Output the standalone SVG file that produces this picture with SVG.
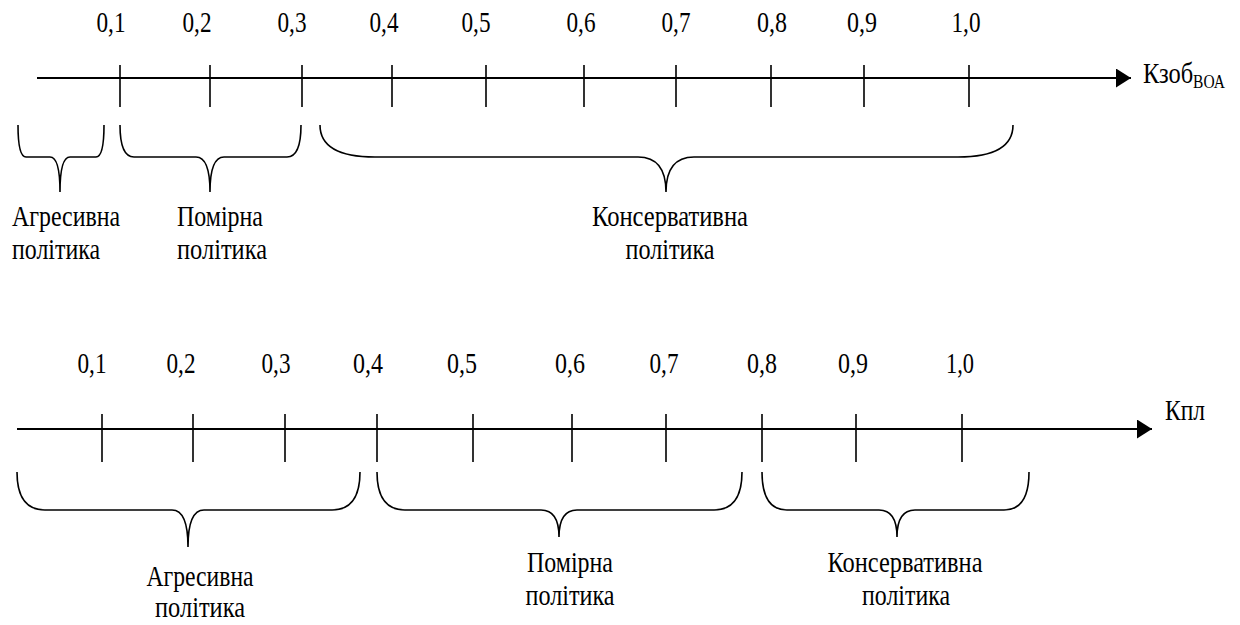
<svg xmlns="http://www.w3.org/2000/svg" width="1240" height="625" viewBox="0 0 1240 625">
<style>
.axis{stroke:#000;stroke-width:2.2;fill:none}
.tick{stroke:#000;stroke-width:1.6}
.brace{stroke:#000;stroke-width:1.6;fill:none}
text{font-family:"Liberation Serif","Times New Roman",serif;fill:#000;text-anchor:middle}
.num{font-size:30px}
.lbl{font-size:30px}
</style>
<defs>
<marker id="arr" markerUnits="userSpaceOnUse" markerWidth="16" markerHeight="20" refX="15" refY="9.5" orient="auto">
<path d="M0,0 L15,9.5 L0,19 Z" fill="#000"/>
</marker>
</defs>
<rect width="1240" height="625" fill="#fff"/>
<g id="connectors">
<line class="axis" x1="37" y1="78" x2="1131" y2="78" marker-end="url(#arr)"/>
<line class="axis" x1="17" y1="429" x2="1152" y2="429" marker-end="url(#arr)"/>
</g>
<g id="ticks-top">
<path class="tick" d="M120,65V107M210,65V107M302,65V107M392,65V107M486,65V107M584,65V107M676,65V107M771,65V107M864,65V107M969,65V107"/>
</g>
<g id="labels-top" class="num">
<text x="111" y="32" textLength="29" lengthAdjust="spacingAndGlyphs">0,1</text>
<text x="197" y="32" textLength="29" lengthAdjust="spacingAndGlyphs">0,2</text>
<text x="292" y="32" textLength="29" lengthAdjust="spacingAndGlyphs">0,3</text>
<text x="384" y="32" textLength="29" lengthAdjust="spacingAndGlyphs">0,4</text>
<text x="476" y="32" textLength="29" lengthAdjust="spacingAndGlyphs">0,5</text>
<text x="581" y="32" textLength="29" lengthAdjust="spacingAndGlyphs">0,6</text>
<text x="676" y="32" textLength="29" lengthAdjust="spacingAndGlyphs">0,7</text>
<text x="772" y="32" textLength="30" lengthAdjust="spacingAndGlyphs">0,8</text>
<text x="862" y="32" textLength="30" lengthAdjust="spacingAndGlyphs">0,9</text>
<text x="966" y="32" textLength="29" lengthAdjust="spacingAndGlyphs">1,0</text>
</g>
<g id="axis-label-top">
<text x="1143" y="83" style="font-size:30px;text-anchor:start" textLength="82" lengthAdjust="spacingAndGlyphs">Кзоб<tspan dy="5" style="font-size:19px">ВОА</tspan></text>
</g>
<g id="top-aggressive">
<path class="brace" d="M18,125 Q18,157 26,157 L50,157 Q60,157 60,192 Q60,157 70,157 L96,157 Q104,157 104,125"/>
<text class="lbl" x="66" y="226" textLength="108" lengthAdjust="spacingAndGlyphs">Агресивна</text>
<text class="lbl" x="56" y="259" textLength="88" lengthAdjust="spacingAndGlyphs">політика</text>
</g>
<g id="top-moderate">
<path class="brace" d="M120,125 Q120,157 134,157 L196,157 Q210,157 210,192 Q210,157 224,157 L287,157 Q301,157 301,125"/>
<text class="lbl" x="220" y="226" textLength="86" lengthAdjust="spacingAndGlyphs">Помірна</text>
<text class="lbl" x="222" y="259" textLength="90" lengthAdjust="spacingAndGlyphs">політика</text>
</g>
<g id="top-conservative">
<path class="brace" d="M320,125 Q320,157 375,157 L638,157 Q666,157 666,192 Q666,157 694,157 L958,157 Q1013,157 1013,125"/>
<text class="lbl" x="670" y="226" textLength="156" lengthAdjust="spacingAndGlyphs">Консервативна</text>
<text class="lbl" x="670" y="259" textLength="89" lengthAdjust="spacingAndGlyphs">політика</text>
</g>
<g id="ticks-bottom">
<path class="tick" d="M102,414V462M193,414V462M285,414V462M377,414V462M473,414V462M572,414V462M666,414V462M762,414V462M856,414V462M962,414V462"/>
</g>
<g id="labels-bottom" class="num">
<text x="92" y="373" textLength="29" lengthAdjust="spacingAndGlyphs">0,1</text>
<text x="181" y="373" textLength="29" lengthAdjust="spacingAndGlyphs">0,2</text>
<text x="276" y="373" textLength="29" lengthAdjust="spacingAndGlyphs">0,3</text>
<text x="368" y="373" textLength="30" lengthAdjust="spacingAndGlyphs">0,4</text>
<text x="462" y="373" textLength="30" lengthAdjust="spacingAndGlyphs">0,5</text>
<text x="570" y="373" textLength="30" lengthAdjust="spacingAndGlyphs">0,6</text>
<text x="664" y="373" textLength="29" lengthAdjust="spacingAndGlyphs">0,7</text>
<text x="762" y="373" textLength="30" lengthAdjust="spacingAndGlyphs">0,8</text>
<text x="853" y="373" textLength="30" lengthAdjust="spacingAndGlyphs">0,9</text>
<text x="960" y="373" textLength="28" lengthAdjust="spacingAndGlyphs">1,0</text>
</g>
<g id="axis-label-bottom">
<text x="1165" y="420" style="font-size:30px;text-anchor:start" textLength="40" lengthAdjust="spacingAndGlyphs">Кпл</text>
</g>
<g id="bottom-aggressive">
<path class="brace" d="M17,472 Q17,510 45,510 L172,510 Q188,510 188,547 Q188,510 204,510 L332,510 Q360,510 360,472"/>
<text class="lbl" x="200" y="586" textLength="107" lengthAdjust="spacingAndGlyphs">Агресивна</text>
<text class="lbl" x="200" y="617" textLength="90" lengthAdjust="spacingAndGlyphs">політика</text>
</g>
<g id="bottom-moderate">
<path class="brace" d="M377,472 Q377,510 405,510 L541,510 Q559,510 559,537 Q559,510 577,510 L714,510 Q742,510 742,472"/>
<text class="lbl" x="570" y="572" textLength="86" lengthAdjust="spacingAndGlyphs">Помірна</text>
<text class="lbl" x="570" y="605" textLength="89" lengthAdjust="spacingAndGlyphs">політика</text>
</g>
<g id="bottom-conservative">
<path class="brace" d="M762,472 Q762,510 787,510 L879,510 Q897,510 897,537 Q897,510 915,510 L1004,510 Q1029,510 1029,472"/>
<text class="lbl" x="905" y="572" textLength="155" lengthAdjust="spacingAndGlyphs">Консервативна</text>
<text class="lbl" x="906" y="605" textLength="88" lengthAdjust="spacingAndGlyphs">політика</text>
</g>
</svg>
